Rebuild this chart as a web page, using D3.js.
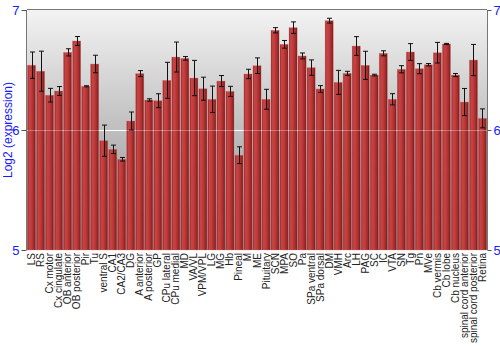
<!DOCTYPE html>
<html><head><meta charset="utf-8">
<script src="https://cdn.jsdelivr.net/npm/d3@7"></script>
<style>body{margin:0;background:#fff}svg{display:block}text{font-family:"Liberation Sans",Arial,sans-serif}</style>
</head><body><svg id="c" width="500" height="350"></svg>
<script>
const categories = ["LS","RS","Cx motor","Cx cingulate","OB anterior","OB posterior","Pir","Tu","ventral S","CA1","CA2/CA3","DG","A anterior","A posterior","GP","CPu lateral","CPu medial","MD","VA/VL","VPM/VPL","LG","MG","Hb","Pineal","M","ME","Pituitary","SCN","MPA","SO","Pa","SPa ventral","SPa dorsal","DM","VMH","Arc","LH","PAG","SC","IC","VTA","SN","Tg","Pn","MVe","Cb vermis","Cb lobe","Cb nucleus","spinal cord anterior","spinal cord posterior","Retina"];
const values = [6.54,6.49,6.29,6.325,6.647,6.742,6.364,6.55,5.911,5.839,5.756,6.075,6.47,6.25,6.244,6.414,6.608,6.597,6.433,6.344,6.256,6.408,6.322,5.79,6.467,6.536,6.256,6.831,6.714,6.853,6.617,6.52,6.342,6.911,6.397,6.472,6.70,6.539,6.458,6.639,6.256,6.506,6.65,6.511,6.544,6.644,6.717,6.458,6.233,6.583,6.097];
const errors = [0.11,0.167,0.057,0.037,0.03,0.037,0.005,0.073,0.13,0.035,0.015,0.075,0.025,0.01,0.058,0.15,0.125,0.015,0.147,0.096,0.11,0.046,0.042,0.07,0.039,0.065,0.083,0.022,0.032,0.048,0.025,0.064,0.028,0.02,0.1,0.017,0.078,0.117,0.007,0.021,0.047,0.03,0.07,0.042,0.01,0.086,0.005,0.013,0.113,0.13,0.079];
const yTicks = [5,6,7];
const yLabel = "Log2 (expression)";

const svg = d3.select("#c");
const L = 27, R = 487, T = 10, B = 250;
const x = d3.scaleBand().domain(categories).range([L, R]).paddingInner(0.1).paddingOuter(0.05);
const y = d3.scaleLinear().domain([5, 7]).range([B, T]);

const defs = svg.append("defs");
const bg = defs.append("linearGradient").attr("id","bg").attr("x1",0).attr("y1",0).attr("x2",0).attr("y2",1);
bg.append("stop").attr("offset",0).attr("stop-color","#f3f3f3");
bg.append("stop").attr("offset",1).attr("stop-color","#8a8a8a");
const bar = defs.append("linearGradient").attr("id","bar").attr("x1",0).attr("y1",0).attr("x2",1).attr("y2",0);
[[0,"#8c2222"],[0.2,"#c84444"],[0.45,"#c23d3d"],[0.8,"#a02a2a"],[1,"#721515"]].forEach(s=>bar.append("stop").attr("offset",s[0]).attr("stop-color",s[1]));

svg.append("rect").attr("x",L).attr("y",T).attr("width",R-L).attr("height",B-T).attr("fill","url(#bg)");
svg.append("g").selectAll("line").data([6]).join("line")
  .attr("x1",L).attr("x2",R).attr("y1",d=>y(d)+0.5).attr("y2",d=>y(d)+0.5)
  .attr("stroke","#fff").attr("stroke-width",1);

svg.append("g").selectAll("rect").data(categories).join("rect")
  .attr("x",d=>x(d)).attr("width",x.bandwidth())
  .attr("y",(d,i)=>y(values[i])).attr("height",(d,i)=>B-y(values[i]))
  .attr("fill","url(#bar)").attr("stroke","#d77a7a").attr("stroke-opacity",0.5).attr("stroke-width",0.6);

svg.append("line").attr("x1",L).attr("x2",R).attr("y1",y(6)+0.5).attr("y2",y(6)+0.5)
  .attr("stroke","#fff").attr("stroke-opacity",0.3);

const eg = svg.append("g").attr("stroke","#111").attr("stroke-width",1);
categories.forEach((c,i)=>{
  const cx = Math.round(x(c)+x.bandwidth()/2)+0.5;
  const y1 = y(values[i]+errors[i]), y2 = y(values[i]-errors[i]);
  eg.append("line").attr("x1",cx).attr("x2",cx).attr("y1",y1).attr("y2",y2);
  eg.append("line").attr("x1",cx-2.5).attr("x2",cx+2.5).attr("y1",y1).attr("y2",y1);
  eg.append("line").attr("x1",cx-2.5).attr("x2",cx+2.5).attr("y1",y2).attr("y2",y2);
});

svg.append("line").attr("x1",L).attr("x2",R).attr("y1",T-0.5).attr("y2",T-0.5).attr("stroke","#777");
svg.append("line").attr("x1",L-0.5).attr("x2",L-0.5).attr("y1",T).attr("y2",B).attr("stroke","#777");
svg.append("line").attr("x1",R+0.5).attr("x2",R+0.5).attr("y1",T).attr("y2",B).attr("stroke","#777");

const la = svg.append("g").attr("transform",`translate(${L-0.5},0)`)
  .call(d3.axisLeft(y).tickValues(yTicks).tickFormat(d3.format("d")).tickSize(5).tickPadding(2));
const ra = svg.append("g").attr("transform",`translate(${R+0.5},0)`)
  .call(d3.axisRight(y).tickValues(yTicks).tickFormat(d3.format("d")).tickSize(4).tickPadding(2));
[la,ra].forEach(a=>{
  a.select(".domain").remove();
  a.selectAll("line").attr("stroke","#555");
  a.selectAll("text").attr("fill","#1a1aff").style("font-size","13px");
});

svg.append("text").attr("transform",`translate(12,${(T+B)/2}) rotate(-90)`)
  .attr("text-anchor","middle").attr("fill","#1a1aff").style("font-size","12px").text(yLabel);

svg.append("g").selectAll("text").data(categories).join("text")
  .attr("transform",d=>`translate(${x(d)+x.bandwidth()/2},${B+3}) rotate(-90)`)
  .attr("dy","0.35em")
  .attr("text-anchor","end").attr("fill","#222").style("font-size","10px").text(d=>d);
</script></body></html>
